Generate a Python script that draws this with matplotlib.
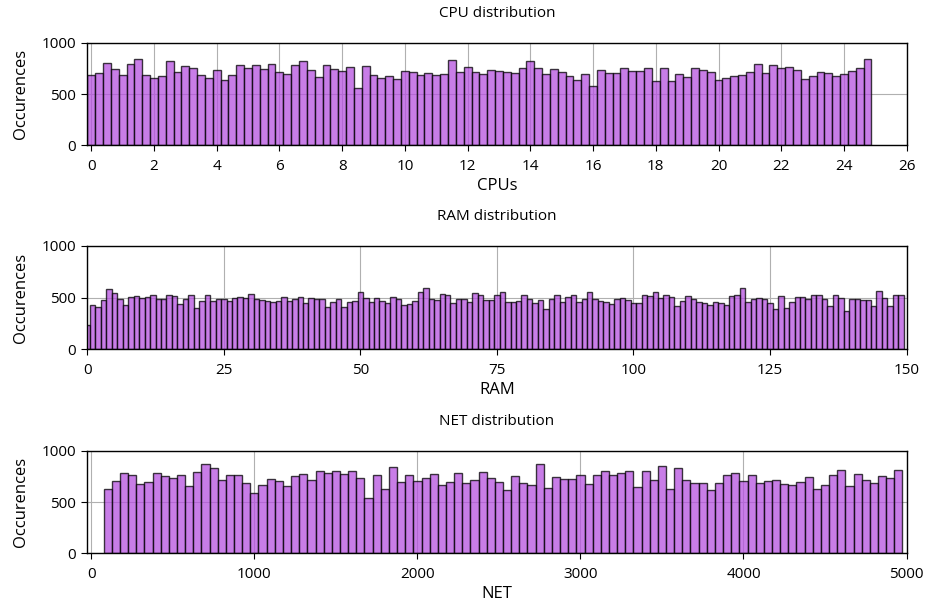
import numpy as np
import matplotlib
matplotlib.use("Agg")
import matplotlib.pyplot as plt

plt.rcParams['font.family'] = ['Open Sans', 'DejaVu Sans']

# ---------------- data ----------------
cpu_bin_start = 0.0
cpu_bin_width = 0.25
cpu_counts = [683, 709, 801, 742, 683, 797, 840, 683, 654, 676,
              820, 712, 774, 752, 683, 654, 739, 641, 683, 781,
              752, 781, 742, 797, 719, 693, 781, 820, 735, 670,
              781, 742, 722, 768, 565, 778, 683, 660, 673, 647,
              729, 719, 683, 706, 683, 693, 833, 712, 768, 719,
              693, 739, 729, 719, 706, 758, 820, 752, 693, 742,
              712, 680, 641, 693, 582, 732, 709, 709, 752, 729,
              729, 758, 624, 758, 624, 693, 670, 752, 739, 712,
              634, 654, 676, 683, 712, 791, 709, 781, 758, 768,
              739, 647, 676, 719, 703, 676, 699, 729, 758, 840]

ram_bin_start = 0
ram_bin_width = 1
ram_counts = [239, 425, 412, 477, 582, 549, 484, 428, 510, 520,
              497, 510, 529, 487, 487, 523, 520, 435, 487, 523,
              402, 471, 523, 471, 487, 487, 471, 500, 510, 497,
              536, 487, 477, 464, 461, 471, 510, 464, 490, 510,
              448, 500, 490, 490, 412, 458, 490, 412, 458, 471,
              552, 500, 458, 500, 471, 448, 510, 490, 425, 438,
              471, 552, 598, 490, 477, 536, 529, 448, 490, 490,
              458, 546, 529, 477, 477, 529, 559, 461, 461, 471,
              523, 487, 448, 477, 389, 490, 523, 454, 510, 529,
              458, 487, 559, 487, 471, 458, 435, 490, 500, 477,
              448, 448, 523, 516, 559, 497, 529, 510, 422, 471,
              516, 490, 458, 448, 431, 461, 448, 428, 520, 523,
              598, 458, 490, 497, 484, 448, 392, 516, 402, 458,
              510, 510, 487, 529, 523, 487, 422, 529, 497, 366,
              490, 487, 477, 477, 422, 565, 497, 422, 529, 529]

net_bin_start = 100
net_bin_width = 50
net_counts = [625, 705, 788, 766, 676, 699, 788, 760, 734, 769,
              654, 795, 875, 837, 721, 766, 766, 689, 587, 663,
              728, 705, 654, 760, 779, 721, 808, 788, 808, 779,
              808, 734, 538, 766, 631, 840, 699, 766, 705, 734,
              779, 670, 699, 788, 692, 712, 795, 734, 699, 615,
              760, 692, 670, 875, 641, 750, 728, 728, 769, 676,
              766, 801, 769, 788, 808, 647, 801, 721, 853, 625,
              837, 712, 689, 689, 615, 683, 766, 788, 705, 769,
              689, 705, 712, 676, 670, 699, 744, 625, 663, 766,
              814, 654, 779, 721, 683, 760, 734, 814]

titles = ["CPU distribution", "RAM distribution", "NET distribution"]
xlabels = ["CPUs", "RAM", "NET"]
ylabel = "Occurences"
yticks = [0, 500, 1000]
cpu_xticks = list(range(0, 27, 2))
ram_xticks = list(range(0, 151, 25))
net_xticks = list(range(0, 5001, 1000))

# ---------------- figure ----------------
W, H = 928, 605
fig = plt.figure(figsize=(W / 100, H / 100), dpi=100)

def axes_px(left, top, right, bottom):
    return fig.add_axes([left / W, 1 - bottom / H, (right - left) / W, (bottom - top) / H])

face = "#b652e0"
specs = [
    (axes_px(87.3, 43, 906.7, 145.3), cpu_bin_start, cpu_bin_width, cpu_counts,
     cpu_xticks, (-0.125, 26)),
    (axes_px(87.3, 246, 906.5, 349.3), ram_bin_start, ram_bin_width, ram_counts,
     ram_xticks, (0, 150)),
    (axes_px(87.3, 451, 906.5, 553.3), net_bin_start, net_bin_width, net_counts,
     net_xticks, (-25, 5000)),
]

for (ax, start, width, counts, xt, xl), title, xlabel in zip(specs, titles, xlabels):
    centers = start + width * np.arange(len(counts))
    ax.bar(centers, counts, width=width, align="center", color=face,
           edgecolor="black", linewidth=1.0, alpha=0.75, zorder=2)
    ax.set_xlim(*xl)
    ax.set_ylim(0, 1000)
    ax.set_xticks(xt)
    ax.set_yticks(yticks)
    ax.grid(True, color="#b0b0b0", linewidth=0.8, zorder=0)
    ax.set_axisbelow(True)
    ax.set_title(title, fontsize=11, pad=19)
    ax.set_xlabel(xlabel, fontsize=12, labelpad=3)
    ax.set_ylabel(ylabel, fontsize=12, labelpad=9)
    ax.tick_params(labelsize=11, length=4, width=0.8)
    ax.tick_params(axis="x", pad=6)
    ax.tick_params(axis="y", pad=4)
    for s in ax.spines.values():
        s.set_linewidth(1.0)
        s.set_color("black")

fig.savefig("out.png", dpi=100)
